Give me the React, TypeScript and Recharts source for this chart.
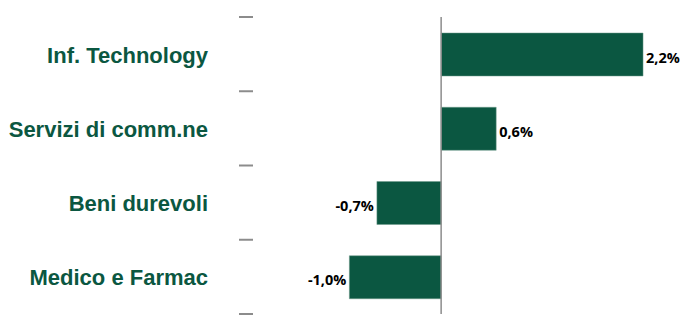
import React from 'react';
import { BarChart, Bar, XAxis, YAxis, ReferenceLine, LabelList } from 'recharts';

// sector names and their change (%)
const sectors = ['Inf. Technology', 'Servizi di comm.ne', 'Beni durevoli', 'Medico e Farmac'];
const changes = [2.2, 0.6, -0.7, -1.0];

const data = sectors.map((name, i) => ({ name, value: changes[i] }));

const GREEN = '#0B5741';
const GREY = '#8c8c8c';

const fmt = (v: number) => v.toFixed(1).replace('.', ',') + '%';

// category label plus the small divider marks at the band edges
const SectorTick = (props: any) => {
  const { x, y, payload, index, visibleTicksCount } = props;
  const half = payload.offset ?? 0;
  const plotLeft = x + 45;
  const isLast = index === (visibleTicksCount ?? sectors.length) - 1;
  return (
    <g>
      <text
        x={x}
        y={y}
        dy={8.5}
        textAnchor="end"
        fill={GREEN}
        fontFamily="'Liberation Sans', Arial, sans-serif"
        fontWeight="bold"
        fontSize={22}
      >
        {payload.value}
      </text>
      <line x1={plotLeft - 14} x2={plotLeft} y1={y - half} y2={y - half} stroke={GREY} strokeWidth={2} />
      {isLast && (
        <line x1={plotLeft - 14} x2={plotLeft} y1={y + half} y2={y + half} stroke={GREY} strokeWidth={2} />
      )}
    </g>
  );
};

export default function App() {
  return (
    <BarChart
      width={680}
      height={310}
      data={data}
      layout="vertical"
      margin={{ top: 9, right: 0, left: 0, bottom: 4 }}
    >
      <XAxis type="number" domain={[-2.05, 2.69]} hide />
      <YAxis
        type="category"
        dataKey="name"
        width={245}
        axisLine={false}
        tickLine={false}
        tickSize={0}
        tickMargin={45}
        tick={<SectorTick />}
        interval={0}
      />
      <ReferenceLine x={0} stroke={GREY} strokeWidth={1.5} />
      <Bar dataKey="value" fill={GREEN} stroke="#6f9a8a" strokeWidth={0.5} barSize={43} isAnimationActive={false}>
        <LabelList
          dataKey="value"
          position="right"
          offset={3}
          formatter={(v: any) => fmt(Number(v))}
          fill="#000"
          fontFamily="'Open Sans', sans-serif"
          fontWeight="bold"
          fontSize={14.5}
          dy={3}
        />
      </Bar>
    </BarChart>
  );
}
